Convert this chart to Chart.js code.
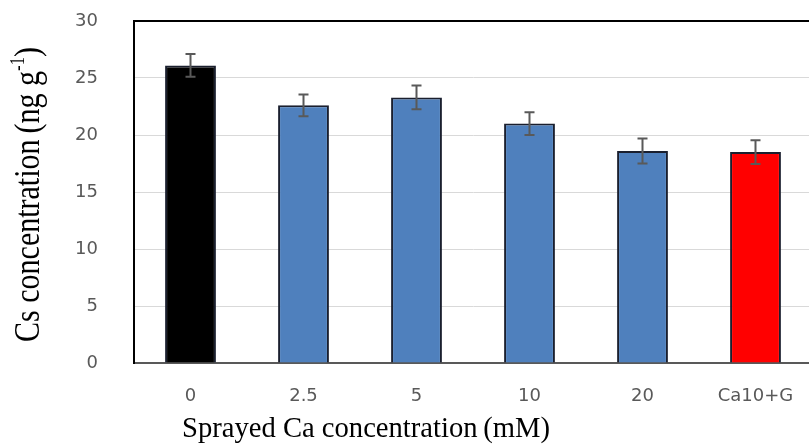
<!DOCTYPE html>
<html>
<head>
<meta charset="utf-8">
<script src="https://cdn.jsdelivr.net/npm/chart.js@4.4.1/dist/chart.umd.min.js"></script>
<style>
  html, body { margin: 0; padding: 0; background: #fff; overflow: hidden; }
  #wrap { position: relative; width: 812px; height: 444px; }
</style>
</head>
<body>
<div id="wrap"><canvas id="chart"></canvas></div>
<script>
// data
const categories = ['0', '2.5', '5', '10', '20', 'Ca10+G'];
const concValues = [26.1, 22.6, 23.3, 21.0, 18.6, 18.5];
const errValues  = [1.0, 0.95, 1.05, 1.0, 1.1, 1.05];
const barColors  = ['#000000', '#4f80bd', '#4f80bd', '#4f80bd', '#4f80bd', '#ff0000'];
const yTicks     = [0, 5, 10, 15, 20, 25, 30];

const xTitle = 'Sprayed Ca concentration\u2009(mM)';
const yTitle = ['Cs concentration\u2009(ng g', '-1', ')'];

const SERIF = '"Liberation Serif", "Times New Roman", serif';
const SANS  = '"DejaVu Sans", "Noto Sans", sans-serif';

// ── error bars, top frame line and axis titles ────────────────────────────
const decor = {
  id: 'decor',
  afterDatasetsDraw(chart) {
    const { ctx, chartArea: a, scales: { y } } = chart;
    const meta = chart.getDatasetMeta(0);
    ctx.save();
    ctx.strokeStyle = '#595959';
    ctx.lineWidth = 2;
    meta.data.forEach((bar, i) => {
      const top = y.getPixelForValue(concValues[i] + errValues[i]);
      const bot = y.getPixelForValue(concValues[i] - errValues[i]);
      ctx.beginPath();
      ctx.moveTo(bar.x, top); ctx.lineTo(bar.x, bot);
      ctx.moveTo(bar.x - 5, top); ctx.lineTo(bar.x + 5, top);
      ctx.moveTo(bar.x - 5, bot); ctx.lineTo(bar.x + 5, bot);
      ctx.stroke();
    });
    ctx.strokeStyle = '#000';
    ctx.beginPath();
    ctx.moveTo(a.left - 1, a.top); ctx.lineTo(a.right, a.top);
    ctx.stroke();
    ctx.restore();
  },
  afterDraw(chart) {
    const ctx = chart.ctx;
    ctx.save();
    ctx.fillStyle = '#000';
    ctx.textBaseline = 'alphabetic';
    ctx.textAlign = 'left';

    // x title, squeezed to the width seen in the picture
    ctx.font = `30px ${SERIF}`;
    const wx = ctx.measureText(xTitle).width;
    ctx.save();
    ctx.translate(182, 437);
    ctx.scale(368 / wx, 1);
    ctx.fillText(xTitle, 0, 0);
    ctx.restore();

    // y title, rotated, with superscript -1
    ctx.font = `36px ${SERIF}`;
    const w0 = ctx.measureText(yTitle[0]).width;
    ctx.font = `20px ${SERIF}`;
    const w1 = ctx.measureText(yTitle[1]).width;
    ctx.font = `36px ${SERIF}`;
    const w2 = ctx.measureText(yTitle[2]).width;
    const total = w0 + w1 + w2;
    ctx.save();
    ctx.translate(39, 342);
    ctx.rotate(-Math.PI / 2);
    ctx.scale(295 / total, 1);
    ctx.fillText(yTitle[0], 0, 0);
    ctx.font = `20px ${SERIF}`;
    ctx.fillText(yTitle[1], w0, -15);
    ctx.font = `36px ${SERIF}`;
    ctx.fillText(yTitle[2], w0 + w1, 0);
    ctx.restore();

    ctx.restore();
  }
};

new Chart(document.getElementById('chart'), {
  type: 'bar',
  data: {
    labels: categories,
    datasets: [{
      data: concValues,
      backgroundColor: barColors,
      borderColor: '#1a1f2e',
      borderWidth: 2,
      categoryPercentage: 1,
      barPercentage: 0.45,
    }]
  },
  options: {
    responsive: true,
    maintainAspectRatio: false,
    animation: false,
    layout: { padding: { top: 21, right: 0, left: 0, bottom: 0 } },
    plugins: { legend: { display: false }, tooltip: { enabled: false } },
    scales: {
      x: {
        grid: { display: false },
        border: { display: true, color: '#595959', width: 2 },
        ticks: { color: '#595959', font: { family: SANS, size: 18 }, padding: 15 },
        afterFit: s => { s.height = 81; },
      },
      y: {
        min: 0, max: 30,
        afterBuildTicks: s => { s.ticks = yTicks.map(v => ({ value: v })); },
        grid: { color: '#d9d9d9', lineWidth: 1, drawTicks: false },
        border: { display: true, color: '#000', width: 2 },
        ticks: { color: '#595959', font: { family: SANS, size: 18 }, padding: 36 },
        afterFit: s => { s.width = 134; s.paddingTop = 0; s.paddingBottom = 0; },
      }
    }
  },
  plugins: [decor]
});
</script>
</body>
</html>
